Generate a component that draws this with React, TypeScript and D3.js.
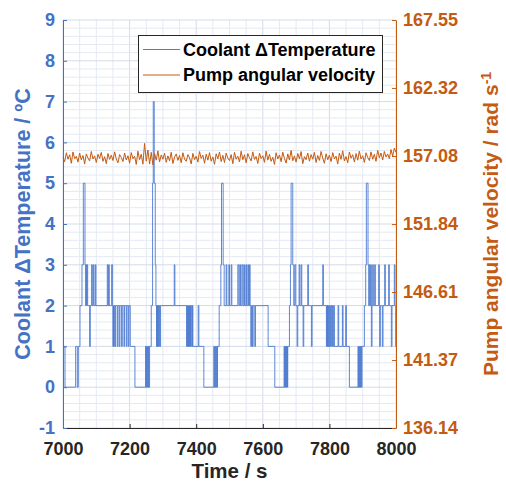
import React, { useEffect, useRef } from 'react';
import * as d3 from 'd3';

const W = 506;
const H = 484;
const BLUE = '#4472C4';
const BLUE_LINE = '#4d7bd0';
const ORANGE = '#C55A11';
const DARK = '#262626';
const FONT = '"Liberation Sans", Arial, Helvetica, sans-serif';

// axis ticks
const timeTicks = [7000, 7200, 7400, 7600, 7800, 8000];
const tempTicks = [-1, 0, 1, 2, 3, 4, 5, 6, 7, 8, 9];
const speedTicks = [136.14, 141.37, 146.61, 151.84, 157.08, 162.32, 167.55];
const legendLabels = ['Coolant \u0394Temperature', 'Pump angular velocity'];

// coolant delta T: [time s, value] at each change (held until next change)
const tempSteps: [number, number][] = [
  [7000, 1], [7006, 0], [7038, 1], [7043, 0], [7046, 1], [7051, 2], [7057, 3], [7061, 5], [7066, 3], [7068, 2],
  [7069, 3], [7071, 2], [7072, 3], [7074, 2], [7080, 1], [7082, 2], [7086, 3], [7088, 2], [7091, 3], [7093, 2],
  [7097, 3], [7099, 2], [7133, 3], [7135, 2], [7137, 3], [7139, 2], [7146, 3], [7149, 2], [7150, 1], [7151, 2],
  [7152, 1], [7154, 2], [7156, 1], [7158, 2], [7163, 1], [7165, 2], [7169, 1], [7171, 2], [7176, 1], [7178, 2],
  [7183, 1], [7185, 2], [7190, 1], [7192, 2], [7196, 1], [7198, 2], [7202, 1], [7216, 0], [7248, 1], [7249, 0],
  [7251, 1], [7252, 0], [7254, 1], [7255, 0], [7257, 1], [7258, 0], [7260, 1], [7265, 2], [7269, 5], [7271, 7],
  [7274, 5], [7277, 3], [7279, 2], [7281, 1], [7282, 2], [7283, 1], [7284, 2], [7285, 1], [7286, 2], [7288, 1],
  [7289, 2], [7291, 1], [7293, 2], [7334, 3], [7336, 2], [7371, 1], [7373, 2], [7374, 1], [7376, 2], [7377, 1],
  [7379, 2], [7380, 1], [7382, 2], [7383, 1], [7385, 2], [7387, 1], [7389, 2], [7390, 1], [7406, 2], [7408, 1],
  [7423, 0], [7453, 1], [7454, 0], [7456, 1], [7457, 0], [7459, 1], [7460, 0], [7462, 1], [7463, 0], [7464, 1],
  [7469, 2], [7474, 3], [7476, 5], [7481, 3], [7484, 2], [7490, 3], [7492, 2], [7498, 3], [7500, 2], [7505, 3],
  [7507, 2], [7525, 3], [7528, 2], [7531, 3], [7533, 2], [7537, 3], [7540, 2], [7543, 3], [7545, 2], [7549, 3],
  [7551, 2], [7555, 3], [7557, 2], [7560, 3], [7562, 2], [7564, 1], [7566, 2], [7569, 1], [7571, 2], [7576, 1],
  [7578, 2], [7616, 1], [7636, 0], [7664, 1], [7665, 0], [7667, 1], [7668, 0], [7670, 1], [7671, 0], [7673, 1],
  [7674, 0], [7675, 1], [7680, 2], [7683, 3], [7685, 5], [7690, 3], [7693, 2], [7696, 3], [7699, 2], [7703, 1],
  [7705, 2], [7709, 3], [7711, 2], [7715, 3], [7717, 2], [7721, 1], [7723, 2], [7735, 3], [7737, 2], [7746, 1],
  [7748, 2], [7780, 3], [7782, 2], [7791, 1], [7792, 2], [7794, 1], [7795, 2], [7796, 1], [7798, 2], [7799, 1],
  [7801, 2], [7803, 1], [7805, 2], [7807, 1], [7809, 2], [7811, 1], [7813, 2], [7815, 1], [7826, 2], [7828, 1],
  [7839, 2], [7841, 1], [7849, 2], [7851, 1], [7860, 0], [7886, 1], [7887, 0], [7889, 1], [7890, 0], [7892, 1],
  [7893, 0], [7895, 1], [7896, 0], [7898, 1], [7905, 2], [7909, 3], [7911, 5], [7916, 3], [7918, 2], [7920, 3],
  [7922, 2], [7924, 3], [7926, 1], [7928, 2], [7930, 3], [7932, 2], [7936, 3], [7938, 2], [7948, 3], [7950, 2],
  [7951, 1], [7953, 2], [7959, 1], [7961, 2], [7966, 3], [7968, 2], [7978, 3], [7980, 2], [7986, 1], [7988, 2],
  [7995, 3], [7997, 2], [7999, 1], [8000, 1],
];

// pump angular velocity (rad/s), one reading every 5 s from 7000 s
const speedStart = 7000;
const speedStep = 5;
const speedValues = [
  156.98, 156.64, 157.33, 156.83, 157.18, 156.52, 157.39, 156.88, 157.06, 156.61,
  157.30, 156.79, 157.12, 156.46, 157.24, 156.92, 156.70, 157.43, 156.85, 157.09,
  156.58, 157.21, 156.89, 157.36, 156.67, 157.03, 156.49, 157.27, 156.82, 157.15,
  156.73, 157.40, 156.86, 156.55, 157.19, 156.97, 156.65, 157.31, 156.77, 157.10,
  156.53, 157.34, 156.88, 157.07, 156.43, 157.45, 156.80, 157.22, 156.45, 158.05,
  156.68, 157.54, 156.46, 157.36, 156.40, 157.27, 156.76, 157.48, 156.62, 157.16,
  156.83, 157.30, 156.59, 157.09, 156.71, 157.37, 156.50, 157.00, 157.24, 156.74,
  157.12, 156.56, 157.33, 156.85, 156.67, 157.19, 156.94, 156.47, 157.28, 156.80,
  157.06, 156.61, 157.42, 156.89, 157.15, 156.52, 157.22, 156.76, 157.34, 156.68,
  157.01, 156.44, 157.25, 156.86, 157.39, 156.65, 157.13, 156.58, 157.31, 156.91,
  156.73, 157.19, 156.49, 157.36, 156.83, 157.07, 156.62, 157.45, 156.79, 157.18,
  156.55, 157.27, 156.95, 156.70, 157.40, 156.82, 157.04, 156.50, 157.30, 156.88,
  157.10, 156.59, 157.46, 156.76, 157.21, 156.67, 156.98, 156.43, 157.33, 156.85,
  157.16, 156.64, 157.37, 156.89, 156.53, 157.24, 156.77, 157.51, 156.71, 157.09,
  156.61, 157.28, 156.86, 157.42, 156.49, 157.03, 156.80, 157.31, 156.68, 157.19,
  156.83, 157.36, 156.58, 157.12, 156.74, 157.43, 156.92, 156.52, 157.25, 156.79,
  157.15, 156.65, 157.34, 156.86, 157.07, 156.46, 157.30, 156.82, 157.48, 156.70,
  157.04, 156.56, 157.39, 156.91, 157.18, 156.62, 157.27, 156.76, 157.45, 156.85,
  157.10, 156.59, 157.33, 156.97, 156.73, 157.40, 156.83, 157.21, 156.67, 157.52,
  156.94, 157.31, 156.77, 157.43, 157.00, 157.24, 156.88, 157.58, 157.06, 157.69,
  157.36,
];

export default function App() {
  const svgRef = useRef<SVGSVGElement>(null);

  useEffect(() => {
    if (!svgRef.current) return;
    const svg = d3.select(svgRef.current);
    svg.selectAll('*').remove();

    const left = 63, right = 396, top = 20, bottom = 428;

    const x = d3.scaleLinear().domain([7000, 8000]).range([left, right]);
    const y = d3.scaleLinear().domain([-1, 9]).range([bottom, top]);
    const yR = d3.scaleLinear().domain([136.14, 167.55]).range([bottom, top]);

    svg.append('rect').attr('width', W).attr('height', H).attr('fill', '#fff');

    // minor + major grid
    const grid = svg.append('g');
    const xMinor = d3.range(7000, 8001, 50);
    const yMinor = d3.range(-1, 9.001, 0.2);
    grid.selectAll('.vx').data(xMinor).join('line')
      .attr('x1', d => x(d)).attr('x2', d => x(d))
      .attr('y1', top).attr('y2', bottom)
      .attr('stroke', d => (d % 200 === 0 ? '#d3dbea' : '#e4e9f3'))
      .attr('stroke-width', 1);
    grid.selectAll('.hy').data(yMinor).join('line')
      .attr('x1', left).attr('x2', right)
      .attr('y1', d => y(d)).attr('y2', d => y(d))
      .attr('stroke', d => (Math.abs(d - Math.round(d)) < 1e-6 ? '#d3dbea' : '#e4e9f3'))
      .attr('stroke-width', 1);

    // temperature step line
    const tempLine = d3.line<[number, number]>()
      .x(d => x(d[0]))
      .y(d => y(d[1]))
      .curve(d3.curveStepAfter);
    svg.append('path')
      .datum(tempSteps)
      .attr('fill', 'none')
      .attr('stroke', BLUE_LINE)
      .attr('stroke-width', 0.9)
      .attr('d', tempLine);

    // pump speed line
    const speedData: [number, number][] = speedValues.map((v, i) => [speedStart + i * speedStep, v]);
    const speedLine = d3.line<[number, number]>()
      .x(d => x(d[0]))
      .y(d => yR(d[1]));
    svg.append('path')
      .datum(speedData)
      .attr('fill', 'none')
      .attr('stroke', ORANGE)
      .attr('stroke-width', 1)
      .attr('d', speedLine);

    // axes
    const styleTicks = (g: any, color: string) => {
      g.selectAll('text')
        .attr('font-family', FONT)
        .attr('font-size', 18)
        .attr('font-weight', 'bold')
        .attr('fill', color);
      g.selectAll('line').attr('stroke', color);
      g.select('.domain').attr('stroke', color);
    };

    const xAxis = svg.append('g')
      .attr('transform', `translate(0,${bottom})`)
      .call(d3.axisBottom(x).tickValues(timeTicks).tickFormat((d: any) => String(d)).tickSizeInner(-4).tickSizeOuter(0).tickPadding(14));
    styleTicks(xAxis, DARK);

    const yAxis = svg.append('g')
      .attr('transform', `translate(${left},0)`)
      .call(d3.axisLeft(y).tickValues(tempTicks).tickFormat((d: any) => String(d)).tickSizeInner(-4).tickSizeOuter(0).tickPadding(8));
    styleTicks(yAxis, BLUE);

    const yAxisR = svg.append('g')
      .attr('transform', `translate(${right},0)`)
      .call(d3.axisRight(yR).tickValues(speedTicks).tickFormat((d: any) => (+d).toFixed(2)).tickSizeInner(-4).tickSizeOuter(0).tickPadding(7));
    styleTicks(yAxisR, ORANGE);

    // axis titles
    svg.append('text')
      .attr('x', (left + right) / 2)
      .attr('y', 478)
      .attr('text-anchor', 'middle')
      .attr('font-family', FONT)
      .attr('font-size', 20.5)
      .attr('font-weight', 'bold')
      .attr('fill', DARK)
      .text('Time / s');

    svg.append('text')
      .attr('transform', `translate(22,${(top + bottom) / 2}) rotate(-90)`)
      .attr('text-anchor', 'middle')
      .attr('dy', '0.35em')
      .attr('font-family', FONT)
      .attr('font-size', 21.5)
      .attr('font-weight', 'bold')
      .attr('fill', BLUE)
      .text('Coolant \u0394Temperature / \u00baC');

    const rLabel = svg.append('text')
      .attr('transform', `translate(491,${(top + bottom) / 2}) rotate(-90)`)
      .attr('text-anchor', 'middle')
      .attr('dy', '0.35em')
      .attr('font-family', FONT)
      .attr('font-size', 21)
      .attr('font-weight', 'bold')
      .attr('fill', ORANGE);
    rLabel.append('tspan').text('Pump angular velocity / rad s');
    rLabel.append('tspan').attr('dy', '-0.5em').attr('font-size', 14).text('-1');

    // legend
    const lg = svg.append('g');
    lg.append('rect')
      .attr('x', 138.5).attr('y', 35.5)
      .attr('width', 244).attr('height', 57)
      .attr('fill', '#fff')
      .attr('stroke', DARK)
      .attr('stroke-width', 1);
    const legendColors = [BLUE_LINE, ORANGE];
    legendLabels.forEach((label, i) => {
      const cy = 49.5 + i * 25.5;
      lg.append('line')
        .attr('x1', 143).attr('x2', 180)
        .attr('y1', cy).attr('y2', cy)
        .attr('stroke', legendColors[i])
        .attr('stroke-width', 1);
      lg.append('text')
        .attr('x', 183)
        .attr('y', cy)
        .attr('dy', '0.35em')
        .attr('font-family', FONT)
        .attr('font-size', 18)
        .attr('font-weight', 'bold')
        .attr('fill', '#000')
        .text(label);
    });
  }, []);

  return (
    <svg
      ref={svgRef}
      width={W}
      height={H}
      style={{ position: 'absolute', left: 0, top: 0 }}
    />
  );
}
